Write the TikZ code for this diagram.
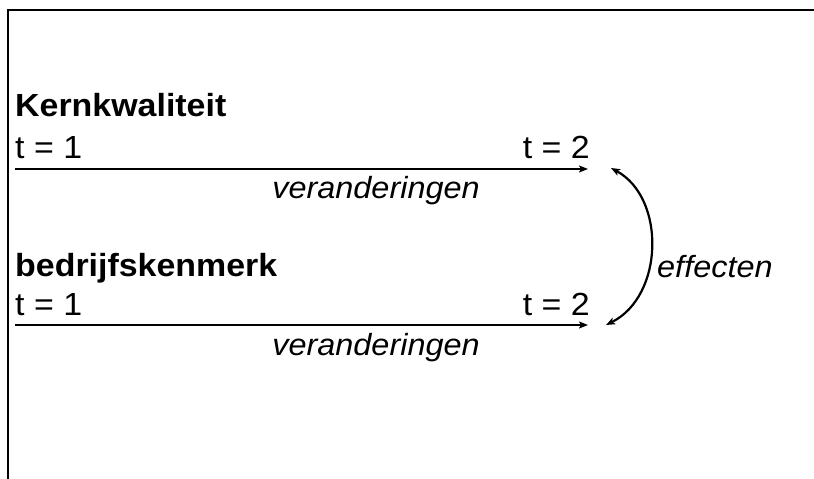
\documentclass[tikz,border=0pt]{standalone}
\usepackage{fontspec}
\setmainfont{Liberation Sans}[FakeStretch=1.06]
\usetikzlibrary{arrows.meta}
\tikzset{
  frame/.style={line width=2.4pt, black},
  timeline/.style={line width=2.2pt, -{Stealth[length=9pt,width=7pt,inset=2pt]}},
  effect/.style={line width=2.2pt, {Stealth[length=9pt,width=7pt,inset=2pt]}-{Stealth[length=9pt,width=7pt,inset=2pt]}},
  heading/.style={inner sep=0pt, anchor=base west, font=\fontsize{32}{38}\selectfont\bfseries},
  label/.style={inner sep=0pt, font=\fontsize{32}{38}\selectfont},
  change/.style={inner sep=0pt, anchor=base, font=\fontsize{30.6}{37}\selectfont\itshape},
}
\begin{document}
\begin{tikzpicture}[x=1pt,y=-1pt]
  \useasboundingbox (0,0) rectangle (814,479);
  % frame: only its top and left sides lie inside the picture
  \draw[frame] (8,490) -- (8,10) -- (830,10);

  % first variable
  \node[heading] (kern) at (15,116) {Kernkwaliteit};
  \node[label, anchor=base west] (k1) at (15,158) {t = 1};
  \node[label, anchor=base east] (k2) at (590,158) {t = 2};
  \coordinate (ks) at (15,169);
  \coordinate (ke) at (588,169);
  \draw[timeline] (ks) -- (ke);
  \node[change] (kv) at (376,198) {veranderingen};

  % second variable
  \node[heading] (bedr) at (15,276) {bedrijfskenmerk};
  \node[label, anchor=base west] (b1) at (15,315) {t = 1};
  \node[label, anchor=base east] (b2) at (590,315) {t = 2};
  \coordinate (bs) at (15,325);
  \coordinate (be) at (588,325);
  \draw[timeline] (bs) -- (be);
  \node[change] (bv) at (376,355) {veranderingen};

  % mutual effects between the two
  \coordinate (et) at (611,168);
  \coordinate (eb) at (606,325);
  \draw[effect] (et) .. controls (666,198) and (664,296) .. (eb);
  \node[change, anchor=base west] (eff) at (657,277) {effecten};
\end{tikzpicture}
\end{document}
